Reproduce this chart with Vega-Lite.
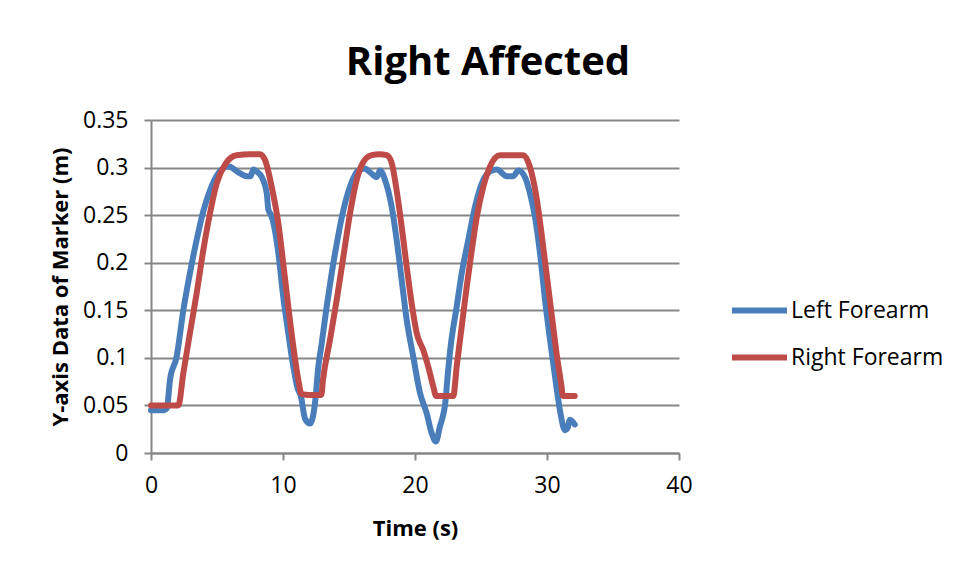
{
  "$schema": "https://vega.github.io/schema/vega-lite/v6.json",
  "autosize": "none",
  "width": 528,
  "height": 333,
  "padding": {"left": 151, "top": 120, "right": 282, "bottom": 118},
  "background": "white",
  "title": {
    "text": "Right Affected",
    "font": "Open Sans",
    "fontSize": 40,
    "fontWeight": "bold",
    "color": "#000000",
    "anchor": "middle",
    "dx": 73,
    "offset": 26
  },
  "data": {
    "values": [
      {"t": 0, "y": 0.045, "series": "Left Forearm"},
      {"t": 0.5, "y": 0.045, "series": "Left Forearm"},
      {"t": 1.0, "y": 0.045, "series": "Left Forearm"},
      {"t": 1.2, "y": 0.047, "series": "Left Forearm"},
      {"t": 1.44, "y": 0.077, "series": "Left Forearm"},
      {"t": 1.94, "y": 0.101, "series": "Left Forearm"},
      {"t": 2.45, "y": 0.15, "series": "Left Forearm"},
      {"t": 2.95, "y": 0.189, "series": "Left Forearm"},
      {"t": 3.46, "y": 0.224, "series": "Left Forearm"},
      {"t": 3.96, "y": 0.254, "series": "Left Forearm"},
      {"t": 4.47, "y": 0.276, "series": "Left Forearm"},
      {"t": 5.1, "y": 0.294, "series": "Left Forearm"},
      {"t": 5.86, "y": 0.301, "series": "Left Forearm"},
      {"t": 6.74, "y": 0.294, "series": "Left Forearm"},
      {"t": 7.25, "y": 0.291, "series": "Left Forearm"},
      {"t": 7.55, "y": 0.291, "series": "Left Forearm"},
      {"t": 7.75, "y": 0.298, "series": "Left Forearm"},
      {"t": 8.0, "y": 0.296, "series": "Left Forearm"},
      {"t": 8.39, "y": 0.29, "series": "Left Forearm"},
      {"t": 8.77, "y": 0.273, "series": "Left Forearm"},
      {"t": 8.89, "y": 0.256, "series": "Left Forearm"},
      {"t": 9.1, "y": 0.25, "series": "Left Forearm"},
      {"t": 9.27, "y": 0.242, "series": "Left Forearm"},
      {"t": 9.65, "y": 0.21, "series": "Left Forearm"},
      {"t": 10.02, "y": 0.164, "series": "Left Forearm"},
      {"t": 10.4, "y": 0.126, "series": "Left Forearm"},
      {"t": 10.78, "y": 0.091, "series": "Left Forearm"},
      {"t": 11.1, "y": 0.068, "series": "Left Forearm"},
      {"t": 11.35, "y": 0.06, "series": "Left Forearm"},
      {"t": 11.67, "y": 0.036, "series": "Left Forearm"},
      {"t": 12.05, "y": 0.031, "series": "Left Forearm"},
      {"t": 12.42, "y": 0.052, "series": "Left Forearm"},
      {"t": 12.68, "y": 0.091, "series": "Left Forearm"},
      {"t": 12.93, "y": 0.115, "series": "Left Forearm"},
      {"t": 13.31, "y": 0.154, "series": "Left Forearm"},
      {"t": 13.69, "y": 0.189, "series": "Left Forearm"},
      {"t": 14.07, "y": 0.22, "series": "Left Forearm"},
      {"t": 14.57, "y": 0.255, "series": "Left Forearm"},
      {"t": 15.08, "y": 0.28, "series": "Left Forearm"},
      {"t": 15.7, "y": 0.297, "series": "Left Forearm"},
      {"t": 16.2, "y": 0.299, "series": "Left Forearm"},
      {"t": 16.6, "y": 0.295, "series": "Left Forearm"},
      {"t": 17.1, "y": 0.29, "series": "Left Forearm"},
      {"t": 17.35, "y": 0.297, "series": "Left Forearm"},
      {"t": 17.73, "y": 0.287, "series": "Left Forearm"},
      {"t": 18.23, "y": 0.259, "series": "Left Forearm"},
      {"t": 18.61, "y": 0.224, "series": "Left Forearm"},
      {"t": 18.99, "y": 0.182, "series": "Left Forearm"},
      {"t": 19.37, "y": 0.14, "series": "Left Forearm"},
      {"t": 19.87, "y": 0.101, "series": "Left Forearm"},
      {"t": 20.38, "y": 0.063, "series": "Left Forearm"},
      {"t": 20.88, "y": 0.042, "series": "Left Forearm"},
      {"t": 21.26, "y": 0.021, "series": "Left Forearm"},
      {"t": 21.59, "y": 0.012, "series": "Left Forearm"},
      {"t": 21.89, "y": 0.028, "series": "Left Forearm"},
      {"t": 22.1, "y": 0.038, "series": "Left Forearm"},
      {"t": 22.27, "y": 0.05, "series": "Left Forearm"},
      {"t": 22.5, "y": 0.085, "series": "Left Forearm"},
      {"t": 22.7, "y": 0.112, "series": "Left Forearm"},
      {"t": 23.16, "y": 0.154, "series": "Left Forearm"},
      {"t": 23.54, "y": 0.189, "series": "Left Forearm"},
      {"t": 24.04, "y": 0.224, "series": "Left Forearm"},
      {"t": 24.55, "y": 0.259, "series": "Left Forearm"},
      {"t": 25.05, "y": 0.283, "series": "Left Forearm"},
      {"t": 25.68, "y": 0.296, "series": "Left Forearm"},
      {"t": 26.19, "y": 0.298, "series": "Left Forearm"},
      {"t": 26.95, "y": 0.291, "series": "Left Forearm"},
      {"t": 27.45, "y": 0.291, "series": "Left Forearm"},
      {"t": 27.83, "y": 0.297, "series": "Left Forearm"},
      {"t": 28.33, "y": 0.29, "series": "Left Forearm"},
      {"t": 28.71, "y": 0.273, "series": "Left Forearm"},
      {"t": 29.09, "y": 0.248, "series": "Left Forearm"},
      {"t": 29.47, "y": 0.21, "series": "Left Forearm"},
      {"t": 29.85, "y": 0.161, "series": "Left Forearm"},
      {"t": 30.23, "y": 0.119, "series": "Left Forearm"},
      {"t": 30.61, "y": 0.08, "series": "Left Forearm"},
      {"t": 30.98, "y": 0.045, "series": "Left Forearm"},
      {"t": 31.36, "y": 0.024, "series": "Left Forearm"},
      {"t": 31.55, "y": 0.026, "series": "Left Forearm"},
      {"t": 31.74, "y": 0.035, "series": "Left Forearm"},
      {"t": 32.1, "y": 0.03, "series": "Left Forearm"},

      {"t": 0, "y": 0.05, "series": "Right Forearm"},
      {"t": 1.0, "y": 0.05, "series": "Right Forearm"},
      {"t": 2.07, "y": 0.05, "series": "Right Forearm"},
      {"t": 2.45, "y": 0.084, "series": "Right Forearm"},
      {"t": 2.95, "y": 0.126, "series": "Right Forearm"},
      {"t": 3.46, "y": 0.168, "series": "Right Forearm"},
      {"t": 3.96, "y": 0.213, "series": "Right Forearm"},
      {"t": 4.47, "y": 0.252, "series": "Right Forearm"},
      {"t": 4.97, "y": 0.283, "series": "Right Forearm"},
      {"t": 5.6, "y": 0.303, "series": "Right Forearm"},
      {"t": 6.48, "y": 0.313, "series": "Right Forearm"},
      {"t": 7.5, "y": 0.314, "series": "Right Forearm"},
      {"t": 8.26, "y": 0.314, "series": "Right Forearm"},
      {"t": 8.64, "y": 0.308, "series": "Right Forearm"},
      {"t": 9.14, "y": 0.28, "series": "Right Forearm"},
      {"t": 9.65, "y": 0.241, "series": "Right Forearm"},
      {"t": 10.02, "y": 0.199, "series": "Right Forearm"},
      {"t": 10.4, "y": 0.154, "series": "Right Forearm"},
      {"t": 10.78, "y": 0.112, "series": "Right Forearm"},
      {"t": 11.16, "y": 0.077, "series": "Right Forearm"},
      {"t": 11.4, "y": 0.062, "series": "Right Forearm"},
      {"t": 12.0, "y": 0.061, "series": "Right Forearm"},
      {"t": 12.9, "y": 0.061, "series": "Right Forearm"},
      {"t": 13.03, "y": 0.077, "series": "Right Forearm"},
      {"t": 13.56, "y": 0.119, "series": "Right Forearm"},
      {"t": 14.07, "y": 0.161, "series": "Right Forearm"},
      {"t": 14.57, "y": 0.206, "series": "Right Forearm"},
      {"t": 15.08, "y": 0.252, "series": "Right Forearm"},
      {"t": 15.58, "y": 0.287, "series": "Right Forearm"},
      {"t": 16.09, "y": 0.306, "series": "Right Forearm"},
      {"t": 16.72, "y": 0.313, "series": "Right Forearm"},
      {"t": 17.3, "y": 0.314, "series": "Right Forearm"},
      {"t": 17.86, "y": 0.313, "series": "Right Forearm"},
      {"t": 18.23, "y": 0.305, "series": "Right Forearm"},
      {"t": 18.61, "y": 0.276, "series": "Right Forearm"},
      {"t": 18.99, "y": 0.238, "series": "Right Forearm"},
      {"t": 19.37, "y": 0.196, "series": "Right Forearm"},
      {"t": 19.75, "y": 0.157, "series": "Right Forearm"},
      {"t": 20.13, "y": 0.126, "series": "Right Forearm"},
      {"t": 20.63, "y": 0.108, "series": "Right Forearm"},
      {"t": 21.0, "y": 0.091, "series": "Right Forearm"},
      {"t": 21.38, "y": 0.07, "series": "Right Forearm"},
      {"t": 21.6, "y": 0.06, "series": "Right Forearm"},
      {"t": 22.2, "y": 0.06, "series": "Right Forearm"},
      {"t": 22.9, "y": 0.06, "series": "Right Forearm"},
      {"t": 23.16, "y": 0.091, "series": "Right Forearm"},
      {"t": 23.54, "y": 0.133, "series": "Right Forearm"},
      {"t": 23.92, "y": 0.175, "series": "Right Forearm"},
      {"t": 24.3, "y": 0.213, "series": "Right Forearm"},
      {"t": 24.68, "y": 0.248, "series": "Right Forearm"},
      {"t": 25.18, "y": 0.28, "series": "Right Forearm"},
      {"t": 25.68, "y": 0.301, "series": "Right Forearm"},
      {"t": 26.44, "y": 0.313, "series": "Right Forearm"},
      {"t": 27.3, "y": 0.313, "series": "Right Forearm"},
      {"t": 28.2, "y": 0.313, "series": "Right Forearm"},
      {"t": 28.7, "y": 0.301, "series": "Right Forearm"},
      {"t": 29.2, "y": 0.269, "series": "Right Forearm"},
      {"t": 29.58, "y": 0.231, "series": "Right Forearm"},
      {"t": 29.96, "y": 0.189, "series": "Right Forearm"},
      {"t": 30.34, "y": 0.147, "series": "Right Forearm"},
      {"t": 30.72, "y": 0.105, "series": "Right Forearm"},
      {"t": 31.1, "y": 0.07, "series": "Right Forearm"},
      {"t": 31.2, "y": 0.06, "series": "Right Forearm"},
      {"t": 31.6, "y": 0.06, "series": "Right Forearm"},
      {"t": 32.1, "y": 0.06, "series": "Right Forearm"}
    ]
  },
  "mark": {
    "type": "line",
    "strokeWidth": 6,
    "strokeCap": "round",
    "strokeJoin": "round",
    "interpolate": "monotone"
  },
  "encoding": {
    "x": {
      "field": "t",
      "type": "quantitative",
      "scale": {"domain": [0, 40], "nice": false},
      "axis": {
        "title": "Time (s)",
        "values": [0, 10, 20, 30, 40],
        "grid": false,
        "labelFlush": false,
        "tickSize": 7,
        "labelPadding": 14,
        "titlePadding": 21
      }
    },
    "y": {
      "field": "y",
      "type": "quantitative",
      "scale": {"domain": [0, 0.35], "nice": false},
      "axis": {
        "title": "Y-axis Data of Marker (m)",
        "values": [0, 0.05, 0.1, 0.15, 0.2, 0.25, 0.3, 0.35],
        "format": "~g",
        "grid": true,
        "labelFlush": false,
        "tickSize": 7,
        "labelPadding": 16,
        "titlePadding": 10
      }
    },
    "color": {
      "field": "series",
      "type": "nominal",
      "scale": {"domain": ["Left Forearm", "Right Forearm"], "range": ["#4A7EBB", "#BE4B48"]},
      "legend": {
        "title": null,
        "orient": "none",
        "legendX": 578,
        "legendY": 160,
        "symbolType": "stroke",
        "symbolSize": 3025,
        "symbolStrokeWidth": 6,
        "labelOffset": 1,
        "rowPadding": 4,
        "labelFont": "Open Sans",
        "labelFontSize": 23,
        "labelColor": "#000000"
      }
    }
  },
  "config": {
    "view": {"stroke": null},
    "axis": {
      "domainColor": "#868686",
      "domainWidth": 2,
      "tickColor": "#868686",
      "tickWidth": 2,
      "gridColor": "#868686",
      "gridWidth": 2,
      "gridOpacity": 1,
      "labelFont": "Open Sans",
      "labelFontSize": 23,
      "labelColor": "#000000",
      "titleFont": "Open Sans",
      "titleFontSize": 22,
      "titleFontWeight": "bold",
      "titleColor": "#000000"
    }
  }
}
